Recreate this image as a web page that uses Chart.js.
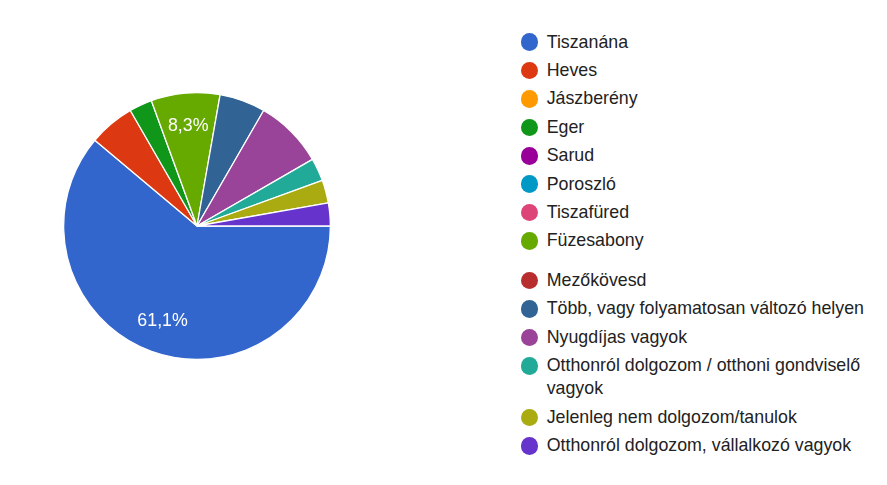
<!DOCTYPE html>
<html>
<head>
<meta charset="utf-8">
<script src="https://cdn.jsdelivr.net/npm/chart.js@4.4.1/dist/chart.umd.min.js"></script>
<style>
  html, body { margin: 0; padding: 0; background: #fff; }
  body { width: 887px; height: 485px; position: relative; overflow: hidden; font-family: Arial, "Liberation Sans", sans-serif; }
  #pieWrap { position: absolute; left: 63px; top: 92px; width: 268px; height: 268px; }
  #legend { position: absolute; left: 520.5px; top: 30.6px; width: 365px; }
  .item { display: flex; align-items: flex-start; margin-bottom: 5.1px; }
  .item.gap { margin-top: 16.3px; }
  .dot { width: 17.6px; height: 17.6px; border-radius: 50%; margin-top: 2.85px; flex: none; }
  .txt { margin-left: 8.6px; font-size: 17.8px; line-height: 23.3px; color: #222; width: 330px; }
</style>
</head>
<body>
<div id="pieWrap"><canvas id="pie"></canvas></div>
<div id="legend"></div>
<script>
// kategóriák és válaszok száma (36 válasz)
const categories = [
  'Tiszanána', 'Heves', 'Jászberény', 'Eger', 'Sarud', 'Poroszló', 'Tiszafüred',
  'Füzesabony', 'Mezőkövesd', 'Több, vagy folyamatosan változó helyen',
  'Nyugdíjas vagyok', 'Otthonról dolgozom / otthoni gondviselő vagyok',
  'Jelenleg nem dolgozom/tanulok', 'Otthonról dolgozom, vállalkozó vagyok'
];
const counts = [22, 2, 0, 1, 0, 0, 0, 3, 0, 2, 3, 1, 1, 1];
const colors = [
  '#3366cc', '#dc3912', '#ff9900', '#109618', '#990099', '#0099c6', '#dd4477',
  '#66aa00', '#b82e2e', '#316395', '#994499', '#22aa99', '#aaaa11', '#6633cc'
];
// csak ezeken a szeleteken van százalék felirat
const labelledSlices = ['Tiszanána', 'Füzesabony'];

// szelet feliratok rajzolása
const sliceLabelPlugin = {
  id: 'sliceLabels',
  afterDatasetsDraw(chart) {
    const ctx = chart.ctx;
    const meta = chart.getDatasetMeta(0);
    const total = counts.reduce((a, b) => a + b, 0);
    ctx.save();
    ctx.font = '17.8px Arial, "Liberation Sans", sans-serif';
    ctx.fillStyle = '#ffffff';
    ctx.textAlign = 'center';
    ctx.textBaseline = 'middle';
    meta.data.forEach((arc, i) => {
      if (!labelledSlices.includes(categories[i])) return;
      const { x, y, startAngle, endAngle, outerRadius } = arc.getProps(['x', 'y', 'startAngle', 'endAngle', 'outerRadius'], true);
      const mid = (startAngle + endAngle) / 2;
      const r = outerRadius * 0.755;
      const pct = (counts[i] / total * 100).toFixed(1).replace('.', ',') + '%';
      ctx.fillText(pct, x + Math.cos(mid) * r, y + Math.sin(mid) * r);
    });
    ctx.restore();
  }
};

new Chart(document.getElementById('pie'), {
  type: 'pie',
  data: {
    labels: categories,
    datasets: [{
      data: counts,
      backgroundColor: colors,
      borderColor: '#ffffff',
      borderWidth: 1.3
    }]
  },
  options: {
    responsive: true,
    maintainAspectRatio: false,
    animation: false,
    rotation: 90,
    layout: { padding: 0 },
    plugins: {
      legend: { display: false },
      tooltip: { enabled: true }
    }
  },
  plugins: [sliceLabelPlugin]
});

// jelmagyarázat
const legend = document.getElementById('legend');
categories.forEach((name, i) => {
  const item = document.createElement('div');
  item.className = 'item' + (i === 8 ? ' gap' : '');
  item.innerHTML = `<div class="dot" style="background:${colors[i]}"></div><div class="txt">${name}</div>`;
  legend.appendChild(item);
});
</script>
</body>
</html>
